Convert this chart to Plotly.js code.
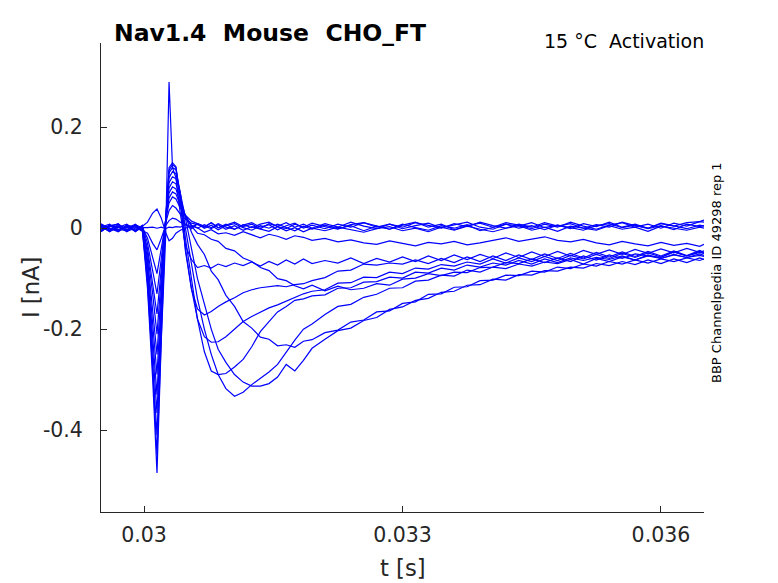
<!DOCTYPE html>
<html><head><meta charset="utf-8">
<script src="https://cdn.plot.ly/plotly-3.0.1.min.js"></script>
<style>html,body{margin:0;padding:0;background:#fff}</style>
</head><body><div id="chart" style="width:778px;height:583px"></div>
<script>
// time samples [s]
const tSec = [0.02950,0.02960,0.02970,0.02980,0.02990,0.02998,
0.03004,0.03010,0.03015,0.03020,0.03025,0.03029,0.03033,0.03037,
0.03042,0.03048,0.03055,0.03062,0.03070,0.03078,0.03086,0.03095,0.03105,0.03115,0.03125,0.03135,0.03145,0.03155,0.03165,0.03175,0.03185,0.03195,
0.03210,0.03225,0.03240,0.03255,0.03270,0.03285,0.03300,0.03315,0.03330,0.03345,0.03360,0.03375,0.03390,0.03405,0.03420,0.03435,0.03450,0.03465,0.03480,0.03495,0.03510,0.03525,0.03540,0.03555,0.03570,0.03585,0.03600,0.03615,0.03630,0.03645,0.03650];

// current traces [nA], one per voltage step
const iZ4 = [0.006,-0.004,0.007,-0.003,0.005,0.001,
0.001,0.002,0.0,0.002,-0.001,0.002,0.001,0.003,
0.002,0.007,-0.001,0.009,0.003,0.011,0.001,0.006,0.012,0.003,0.008,-0.001,0.009,0.004,0.011,0.002,0.008,0.0,
0.009,0.002,0.012,0.004,-0.001,0.008,0.002,0.011,0.005,0.0,0.009,0.003,0.012,0.005,0.0,0.008,0.002,0.011,0.004,0.009,0.0,0.007,0.002,0.012,0.005,0.0,0.009,0.004,0.011,0.013,0.012];
const iZ0 = [-0.006,0.006,-0.003,0.005,-0.007,0.003,
0.012,0.03,0.038,0.02,-0.008,-0.025,-0.02,-0.01,
-0.004,0.0,0.005,0.0,0.007,0.001,0.009,0.002,-0.002,0.007,0.001,0.008,0.012,0.003,-0.001,0.008,0.002,0.010,
0.003,-0.002,0.007,0.011,0.002,0.008,-0.001,0.005,0.010,0.001,0.006,0.012,0.002,-0.002,0.008,0.004,0.011,0.001,0.006,-0.001,0.009,0.003,0.012,0.002,0.008,0.0,0.010,0.005,-0.001,0.006,0.004];
const iZ1 = [0.008,0.0,-0.005,0.006,0.002,-0.004,
-0.01,-0.03,-0.043,-0.02,0.005,0.015,0.02,0.018,
0.012,0.008,0.002,0.009,0.0,0.006,-0.003,0.005,0.009,0.001,-0.004,0.005,0.0,0.008,0.001,-0.005,0.004,-0.002,
0.006,-0.001,0.005,-0.005,0.004,-0.002,0.008,0.001,-0.004,0.005,0.0,0.007,-0.005,0.002,0.008,0.0,0.005,-0.003,0.006,0.001,-0.004,0.005,0.009,0.001,0.006,-0.001,0.005,-0.003,0.008,0.003,0.005];
const iZ2 = [-0.002,0.005,0.008,-0.004,0.005,0.002,
-0.02,-0.06,-0.09,-0.04,0.01,0.035,0.045,0.04,
0.028,0.018,0.01,0.007,0.002,0.011,0.001,0.008,-0.002,0.006,0.011,0.002,0.007,-0.003,0.005,0.010,0.0,0.006,
-0.001,0.008,0.002,0.011,0.004,-0.002,0.006,0.012,0.002,0.008,-0.003,0.005,0.010,0.002,0.011,0.006,-0.001,0.008,0.002,0.012,0.004,-0.002,0.006,0.011,0.002,0.008,0.0,0.010,0.004,0.014,0.016];
const iZ3 = [0.003,-0.006,0.002,0.008,-0.005,0.004,
-0.03,-0.085,-0.13,-0.06,0.015,0.05,0.062,0.058,
0.04,0.026,0.014,0.009,0.004,-0.001,0.007,-0.002,0.005,-0.004,0.003,-0.002,-0.006,0.003,-0.005,0.001,-0.007,0.0,
-0.005,0.002,-0.003,-0.008,-0.001,0.003,-0.005,0.0,-0.007,0.002,-0.004,0.004,-0.002,-0.007,0.0,0.005,-0.004,0.002,-0.006,0.004,0.0,-0.004,0.005,-0.002,0.002,-0.006,0.004,0.0,-0.004,0.002,0.0];
const iN10 = [-0.006,0.004,-0.002,-0.005,0.007,-0.002,
-0.04,-0.11,-0.17,-0.08,0.015,0.06,0.072,0.068,
0.045,0.025,0.006,0.001,-0.008,-0.003,-0.011,-0.009,-0.014,-0.007,-0.013,-0.019,-0.012,-0.016,-0.022,-0.015,-0.018,-0.024,
-0.02,-0.027,-0.023,-0.029,-0.032,-0.025,-0.03,-0.035,-0.028,-0.031,-0.026,-0.033,-0.029,-0.024,-0.019,-0.026,-0.021,-0.017,-0.024,-0.027,-0.022,-0.029,-0.033,-0.026,-0.031,-0.035,-0.028,-0.034,-0.03,-0.036,-0.032];
const iN9 = [0.002,0.008,-0.006,0.003,-0.004,0.006,
-0.05,-0.13,-0.21,-0.1,0.015,0.07,0.082,0.078,
0.05,0.022,0.004,-0.01,-0.013,-0.022,-0.026,-0.04,-0.045,-0.059,-0.066,-0.078,-0.084,-0.1,-0.104,-0.114,-0.12,-0.113,
-0.124,-0.115,-0.122,-0.119,-0.11,-0.113,-0.101,-0.099,-0.09,-0.094,-0.087,-0.088,-0.078,-0.077,-0.068,-0.07,-0.061,-0.068,-0.059,-0.066,-0.055,-0.063,-0.053,-0.06,-0.051,-0.055,-0.058,-0.047,-0.055,-0.048,-0.05];
const iN8 = [0.007,-0.005,0.004,0.0,0.008,-0.005,
-0.06,-0.16,-0.25,-0.12,0.015,0.08,0.092,0.088,
0.06,0.025,-0.008,-0.032,-0.052,-0.085,-0.102,-0.133,-0.155,-0.185,-0.198,-0.216,-0.22,-0.233,-0.231,-0.236,-0.224,-0.221,
-0.207,-0.202,-0.186,-0.182,-0.166,-0.164,-0.149,-0.146,-0.131,-0.13,-0.117,-0.116,-0.104,-0.103,-0.093,-0.094,-0.085,-0.087,-0.077,-0.08,-0.071,-0.075,-0.066,-0.071,-0.063,-0.069,-0.061,-0.066,-0.059,-0.064,-0.061];
const iN6 = [-0.004,0.002,0.009,-0.006,0.0,0.003,
-0.07,-0.19,-0.29,-0.14,0.015,0.09,0.102,0.098,
0.07,0.02,-0.04,-0.1,-0.15,-0.2,-0.24,-0.266,-0.29,-0.305,-0.313,-0.313,-0.308,-0.295,-0.27,-0.283,-0.262,-0.238,
-0.22,-0.203,-0.198,-0.183,-0.177,-0.161,-0.156,-0.143,-0.139,-0.127,-0.125,-0.113,-0.112,-0.101,-0.103,-0.092,-0.093,-0.084,-0.085,-0.077,-0.079,-0.07,-0.074,-0.066,-0.072,-0.063,-0.07,-0.061,-0.068,-0.059,-0.062];
const iN5 = [0.009,-0.002,-0.004,0.005,-0.006,0.002,
-0.08,-0.21,-0.33,-0.16,0.015,0.1,0.112,0.108,
0.07,0.0,-0.07,-0.14,-0.2,-0.25,-0.29,-0.318,-0.333,-0.325,-0.31,-0.298,-0.285,-0.27,-0.245,-0.222,-0.2,-0.19,
-0.171,-0.155,-0.151,-0.137,-0.131,-0.119,-0.118,-0.105,-0.103,-0.093,-0.095,-0.083,-0.087,-0.077,-0.08,-0.071,-0.075,-0.067,-0.07,-0.062,-0.071,-0.06,-0.066,-0.057,-0.063,-0.055,-0.06,-0.053,-0.058,-0.054,-0.056];
const iN4 = [-0.005,0.005,0.003,-0.007,0.006,0.0,
-0.09,-0.23,-0.366,-0.17,0.015,0.11,0.12,0.116,
0.07,-0.02,-0.1,-0.18,-0.245,-0.283,-0.29,-0.288,-0.275,-0.26,-0.235,-0.205,-0.185,-0.166,-0.155,-0.143,-0.14,-0.134,
-0.132,-0.119,-0.118,-0.107,-0.106,-0.097,-0.099,-0.087,-0.089,-0.079,-0.083,-0.073,-0.077,-0.069,-0.073,-0.064,-0.071,-0.061,-0.068,-0.059,-0.064,-0.058,-0.062,-0.055,-0.063,-0.053,-0.06,-0.052,-0.058,-0.051,-0.054];
const iN3 = [0.004,0.0,-0.007,0.005,0.002,-0.006,
-0.1,-0.26,-0.41,-0.19,0.015,0.115,0.126,0.12,
0.06,-0.04,-0.12,-0.18,-0.215,-0.226,-0.225,-0.215,-0.2,-0.185,-0.175,-0.166,-0.158,-0.152,-0.145,-0.138,-0.13,-0.125,
-0.122,-0.109,-0.108,-0.097,-0.098,-0.087,-0.09,-0.079,-0.081,-0.072,-0.075,-0.067,-0.071,-0.061,-0.069,-0.059,-0.066,-0.056,-0.064,-0.054,-0.061,-0.052,-0.06,-0.05,-0.058,-0.049,-0.057,-0.047,-0.055,-0.046,-0.05];
const iN2 = [-0.007,0.006,0.001,0.002,-0.004,0.005,
-0.11,-0.28,-0.45,-0.21,0.015,0.12,0.13,0.122,
0.055,-0.045,-0.12,-0.16,-0.172,-0.165,-0.155,-0.146,-0.138,-0.128,-0.122,-0.118,-0.116,-0.114,-0.116,-0.112,-0.11,-0.104,
-0.098,-0.085,-0.083,-0.071,-0.073,-0.069,-0.071,-0.063,-0.07,-0.06,-0.068,-0.057,-0.066,-0.055,-0.064,-0.053,-0.062,-0.051,-0.06,-0.05,-0.059,-0.048,-0.057,-0.047,-0.056,-0.046,-0.055,-0.045,-0.054,-0.044,-0.048];
const iN1 = [0.005,-0.007,0.004,-0.003,0.005,-0.002,
-0.12,-0.3,-0.485,-0.22,-0.02,0.29,0.12,0.1,
0.03,-0.035,-0.062,-0.078,-0.074,-0.079,-0.071,-0.076,-0.069,-0.074,-0.067,-0.075,-0.066,-0.073,-0.063,-0.071,-0.061,-0.07,
-0.064,-0.069,-0.059,-0.07,-0.06,-0.067,-0.057,-0.066,-0.055,-0.064,-0.053,-0.062,-0.052,-0.06,-0.049,-0.058,-0.047,-0.056,-0.046,-0.055,-0.044,-0.052,-0.043,-0.052,-0.042,-0.05,-0.041,-0.049,-0.04,-0.048,-0.045];

const seriesList = [iZ4,iZ0,iZ1,iZ2,iZ3,iN10,iN9,iN8,iN6,iN5,iN4,iN3,iN2,iN1];

const xTickVals = [0.03,0.033,0.036];
const xTickText = ['0.03','0.033','0.036'];
const yTickVals = [-0.4,-0.2,0,0.2];
const yTickText = ['-0.4','-0.2','0','0.2'];

const titleText = 'Nav1.4  Mouse  CHO_FT';
const subText = '15 °C  Activation';
const sideText = 'BBP Channelpedia ID 49298 rep 1';

const data = seriesList.map(function(s){
  return {x: tSec, y: s, type:'scatter', mode:'lines',
          line:{color:'#0000ff', width:1.2}, hoverinfo:'skip'};
});

const FONT = 'DejaVu Sans, sans-serif';
const ax = {
  showgrid:false, zeroline:false, showline:true, linecolor:'#262626', linewidth:1,
  ticks:'inside', ticklen:6, tickwidth:1, tickcolor:'#262626',
  tickfont:{family:FONT, size:20.5, color:'#262626'}, mirror:false, fixedrange:true
};
const annotations = [
  {text:'<b>'+titleText+'</b>', xref:'paper', yref:'paper', x:0.0182, y:1.0213, xanchor:'left', yanchor:'middle', showarrow:false, font:{family:FONT, size:23.5, color:'#000'}},
  {text:subText, xref:'paper', yref:'paper', x:1.0033, y:1.0043, xanchor:'right', yanchor:'middle', showarrow:false, font:{family:FONT, size:19, color:'#000'}},
  {text:sideText, xref:'paper', yref:'paper', x:1.0207, y:0.5107, xanchor:'center', yanchor:'middle', textangle:-90, showarrow:false, font:{family:FONT, size:13, color:'#000'}},
  {text:'t [s]', xref:'paper', yref:'paper', x:0.5, y:-0.1194, xanchor:'center', yanchor:'middle', showarrow:false, font:{family:FONT, size:22.7, color:'#262626'}},
  {text:'I [nA]', xref:'paper', yref:'paper', x:-0.116, y:0.4797, xanchor:'center', yanchor:'middle', textangle:-90, showarrow:false, font:{family:FONT, size:22.7, color:'#262626'}}
];

const layout = {
  width:778, height:583,
  margin:{l:101, r:74, t:43, b:71, pad:0},
  paper_bgcolor:'#ffffff', plot_bgcolor:'#ffffff',
  showlegend:false,
  font:{family:FONT, color:'#262626'},
  xaxis:Object.assign({}, ax, {range:[0.0295,0.0365], tickmode:'array', tickvals:xTickVals, ticktext:xTickText, ticklabelstandoff:4}),
  yaxis:Object.assign({}, ax, {range:[-0.5625,0.3671], tickmode:'array', tickvals:yTickVals, ticktext:yTickText, ticklabelstandoff:13}),
  annotations:annotations
};
Plotly.newPlot('chart', data, layout, {staticPlot:true, displayModeBar:false});
</script></body></html>
